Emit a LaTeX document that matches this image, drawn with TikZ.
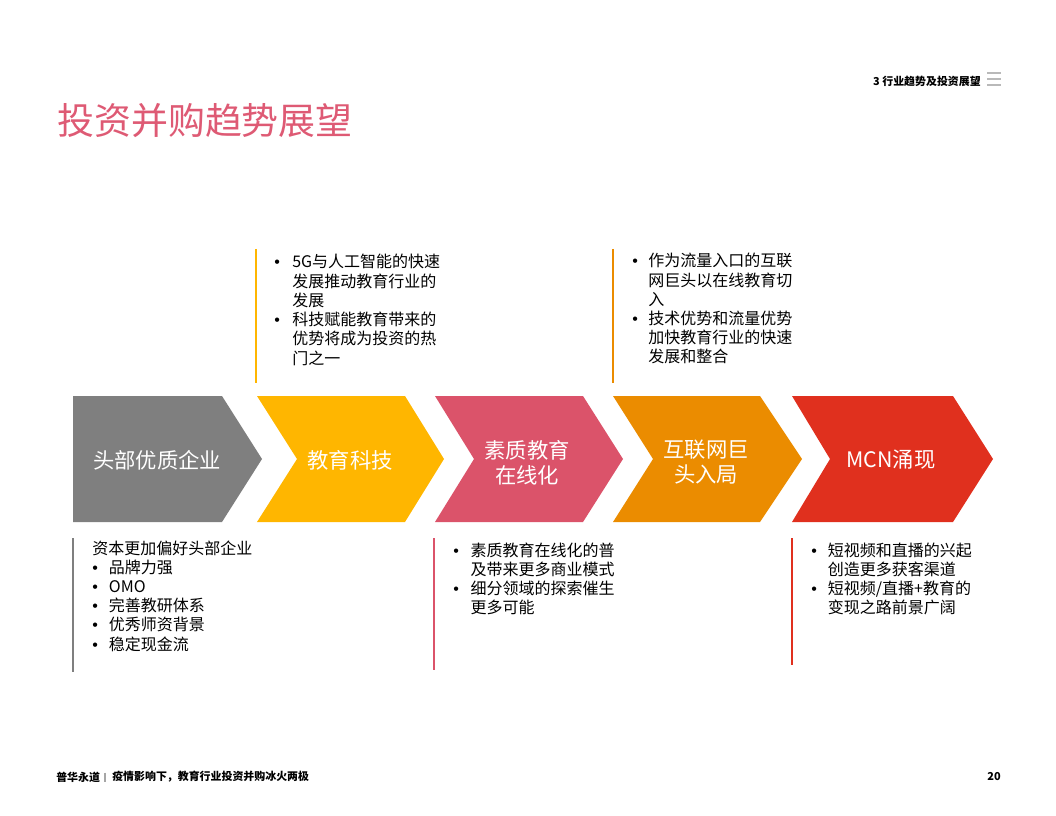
\documentclass[tikz,border=0pt]{standalone}
\usepackage{fontspec}
\usepackage{array}
\newfontfamily\cjk{Noto Sans CJK SC}
\newfontfamily\lat{Liberation Sans}
\definecolor{cgray}{HTML}{7F7F7F}
\definecolor{cyellow}{HTML}{FFB600}
\definecolor{cpink}{HTML}{DB536A}
\definecolor{corange}{HTML}{EB8C00}
\definecolor{cred}{HTML}{E0301E}
\definecolor{ctitle}{HTML}{DE5A74}
\newcommand{\bul}{{\lat\textbullet}}
\begin{document}
\begin{tikzpicture}[x=0.75pt,y=-0.75pt,
  chevtext/.style={font=\cjk\fontsize{16}{18.75}\selectfont, text=white, align=center, inner sep=0},
  bodytext/.style={font=\cjk\fontsize{12}{14.3}\selectfont, anchor=base west, inner sep=0},
  smalltext/.style={font=\cjk\bfseries\fontsize{8.2}{10}\selectfont, inner sep=0},
  vline/.style={line width=1.1pt}]
\useasboundingbox (0,0) rectangle (1056,816);

% title and header
\node[font=\cjk\fontsize{27.7}{30}\selectfont, text=ctitle, anchor=west, inner sep=0] (title) at (57,121) {投资并购趋势展望};
\node[smalltext, anchor=east] (hdr) at (981,81) {3 行业趋势及投资展望};
\draw[gray!55, line width=0.8pt] (987,73) -- (1001,73) (987,79) -- (1001,79) (987,85) -- (1001,85);

% chevrons
\fill[cgray] (73,396) -- (222,396) -- (262,459) -- (222,522) -- (73,522) -- cycle;
\fill[cyellow] (257,396) -- (405,396) -- (444,459) -- (405,522) -- (257,522) -- (297,459) -- cycle;
\fill[cpink] (435,396) -- (583,396) -- (623,459) -- (583,522) -- (435,522) -- (474,459) -- cycle;
\fill[corange] (613,396) -- (760,396) -- (802,459) -- (760,522) -- (613,522) -- (653,459) -- cycle;
\fill[cred] (792,396) -- (953,396) -- (993,459) -- (953,522) -- (792,522) -- (830,459) -- cycle;

\node[chevtext] (c1) at (157,460) {头部优质企业};
\node[chevtext] (c2) at (350,460) {教育科技};
\node[chevtext] (c3) at (527,462.5) {素质教育\\在线化};
\node[chevtext] (c4) at (706,462.5) {互联网巨\\头入局};
\node[chevtext] (c5) at (891,460) {MCN涌现};

% side lines
\draw[cyellow, vline] (256,249) -- (256,383);
\draw[corange, vline] (613,249) -- (613,383);
\draw[cgray, vline] (73,538) -- (73,672);
\draw[cpink, vline] (434,538) -- (434,670);
\draw[cred, vline] (792,538) -- (792,665);

% text blocks
\node[bodytext] (t1) at (274,268) {\begin{tabular}[t]{@{}p{13.5pt}@{}l@{}}
\bul & 5G与人工智能的快速\\ & 发展推动教育行业的\\ & 发展\\
\bul & 科技赋能教育带来的\\ & 优势将成为投资的热\\ & 门之一\end{tabular}};
\node[bodytext] (t2) at (632,267) {\begin{tabular}[t]{@{}p{12pt}@{}l@{}}
\bul & 作为流量入口的互联\\ & 网巨头以在线教育切\\ & 入\\
\bul & 技术优势和流量优势\\ & 加快教育行业的快速\\ & 发展和整合\end{tabular}};
\node[bodytext] (b1) at (92,554) {\begin{tabular}[t]{@{}p{12.5pt}@{}l@{}}
\multicolumn{2}{@{}l@{}}{资本更加偏好头部企业}\\
\bul & 品牌力强\\ \bul & OMO\\ \bul & 完善教研体系\\ \bul & 优秀师资背景\\ \bul & 稳定现金流\end{tabular}};
\node[bodytext] (b2) at (453,556) {\begin{tabular}[t]{@{}p{13pt}@{}l@{}}
\bul & 素质教育在线化的普\\ & 及带来更多商业模式\\
\bul & 细分领域的探索催生\\ & 更多可能\end{tabular}};
\node[bodytext] (b3) at (811,556) {\begin{tabular}[t]{@{}p{12.5pt}@{}l@{}}
\bul & 短视频和直播的兴起\\ & 创造更多获客渠道\\
\bul & 短视频/直播+教育的\\ & 变现之路前景广阔\end{tabular}};

% footer
\node[smalltext, anchor=west] (f1) at (56,777) {普华永道};
\draw[gray!70, line width=0.8pt] (105,772.5) -- (105,781.5);
\node[smalltext, anchor=west] (f2) at (112,777) {疫情影响下，教育行业投资并购冰火两极};
\node[smalltext, anchor=east] (pg) at (1001,777) {20};
\end{tikzpicture}
\end{document}
